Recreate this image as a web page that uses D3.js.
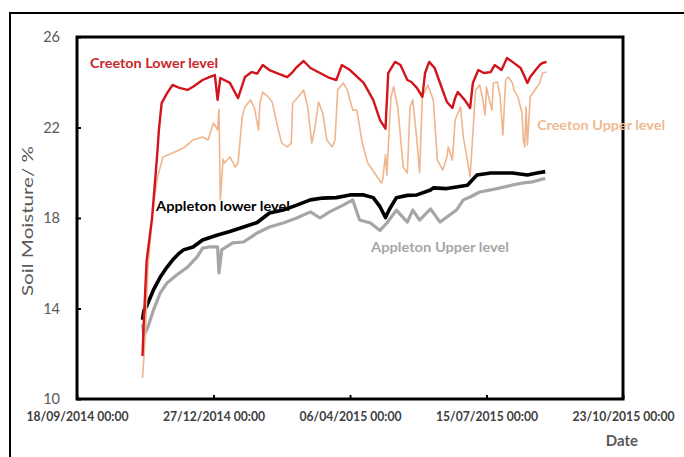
<!DOCTYPE html>
<html>
<head>
<meta charset="utf-8">
<script src="https://cdn.jsdelivr.net/npm/d3@7"></script>
<style>
  html, body { margin: 0; padding: 0; background: #ffffff; }
  svg { display: block; }
</style>
</head>
<body>
<svg id="chart" width="684" height="457"></svg>
<script>
// ---------- DATA ----------
const yTicks = [10, 14, 18, 22, 26];
const xTickDates = ["2014-09-18", "2014-12-27", "2015-04-06", "2015-07-15", "2015-10-23"];
const xDomain = ["2014-09-18", "2015-10-23"];

const seriesNames = ["Creeton Lower level", "Creeton Upper level", "Appleton lower level", "Appleton Upper level"];

const creetonLowerDates = ["2014-11-05","2014-11-06","2014-11-08","2014-11-12","2014-11-14","2014-11-16","2014-11-17","2014-11-19","2014-11-23","2014-11-27","2014-12-02","2014-12-08","2014-12-12","2014-12-19","2014-12-24","2014-12-28","2014-12-30","2015-01-01","2015-01-08","2015-01-14","2015-01-19","2015-01-24","2015-01-28","2015-02-01","2015-02-06","2015-02-11","2015-02-19","2015-02-23","2015-02-26","2015-03-03","2015-03-08","2015-03-15","2015-03-22","2015-03-27","2015-03-31","2015-04-06","2015-04-16","2015-04-23","2015-04-28","2015-05-02","2015-05-04","2015-05-09","2015-05-13","2015-05-18","2015-05-21","2015-05-25","2015-05-29","2015-05-31","2015-06-03","2015-06-07","2015-06-12","2015-06-16","2015-06-20","2015-06-22","2015-06-24","2015-06-29","2015-07-03","2015-07-05","2015-07-09","2015-07-13","2015-07-18","2015-07-21","2015-07-26","2015-07-30","2015-08-03","2015-08-09","2015-08-14","2015-08-16","2015-08-20","2015-08-23","2015-08-25","2015-08-28"];
const creetonLowerValues = [11.9,13.5,16.1,18.0,19.5,21.0,21.9,23.08,23.52,23.88,23.75,23.66,23.8,24.10,24.23,24.32,23.22,24.19,23.97,23.30,24.23,24.45,24.38,24.76,24.54,24.41,24.23,24.45,24.67,24.94,24.63,24.41,24.19,24.10,24.76,24.54,23.97,23.22,22.33,21.95,24.4,24.9,24.76,24.10,24.01,23.75,23.35,24.41,24.90,24.63,23.79,23.13,22.86,23.30,23.57,23.22,22.86,23.97,24.54,24.41,24.45,24.76,24.54,25.07,24.90,24.63,23.97,24.23,24.54,24.76,24.85,24.90];

const creetonUpperDates = ["2014-11-05","2014-11-07","2014-11-09","2014-11-12","2014-11-14","2014-11-16","2014-11-20","2014-11-27","2014-12-05","2014-12-12","2014-12-19","2014-12-23","2014-12-27","2014-12-30","2014-12-31","2015-01-01","2015-01-03","2015-01-04","2015-01-08","2015-01-12","2015-01-14","2015-01-17","2015-01-19","2015-01-23","2015-01-26","2015-01-29","2015-01-30","2015-02-01","2015-02-05","2015-02-08","2015-02-12","2015-02-15","2015-02-19","2015-02-22","2015-02-23","2015-02-27","2015-03-03","2015-03-06","2015-03-09","2015-03-11","2015-03-14","2015-03-17","2015-03-20","2015-03-24","2015-03-26","2015-03-28","2015-04-01","2015-04-04","2015-04-08","2015-04-11","2015-04-15","2015-04-19","2015-04-26","2015-04-29","2015-04-30","2015-05-02","2015-05-03","2015-05-06","2015-05-08","2015-05-11","2015-05-15","2015-05-18","2015-05-20","2015-05-22","2015-05-25","2015-05-27","2015-05-29","2015-06-02","2015-06-06","2015-06-09","2015-06-13","2015-06-16","2015-06-17","2015-06-20","2015-06-22","2015-06-26","2015-06-28","2015-07-01","2015-07-03","2015-07-07","2015-07-10","2015-07-12","2015-07-14","2015-07-15","2015-07-17","2015-07-19","2015-07-20","2015-07-23","2015-07-25","2015-07-27","2015-07-29","2015-07-31","2015-08-03","2015-08-04","2015-08-07","2015-08-10","2015-08-11","2015-08-12","2015-08-13","2015-08-14","2015-08-16","2015-08-21","2015-08-23","2015-08-25","2015-08-28"];
const creetonUpperValues = [10.93,12.74,15.8,18.0,19.0,19.8,20.70,20.87,21.09,21.45,21.58,21.45,22.20,21.89,22.8,18.8,20.6,20.43,20.70,20.25,20.43,22.46,22.91,23.22,22.86,21.89,23.08,23.57,23.35,23.13,22.02,21.31,21.14,21.31,23.08,23.35,23.66,22.91,21.31,21.89,23.13,22.64,21.45,21.14,21.45,23.66,23.97,23.66,22.77,22.77,21.31,20.43,19.81,19.55,19.7,20.8,19.9,23.35,23.80,22.9,20.25,19.99,22.91,23.22,21.45,19.99,23.35,23.88,23.22,20.56,20.12,20.70,21.14,20.56,22.33,22.91,21.58,20.56,19.81,23.66,23.88,23.35,22.55,23.79,23.22,22.77,23.97,24.01,23.35,21.67,24.10,24.23,23.97,23.66,23.35,22.64,21.45,21.14,22.91,21.23,23.35,23.79,23.97,24.41,24.45];

const appletonLowerDates = ["2014-11-05","2014-11-06","2014-11-08","2014-11-13","2014-11-18","2014-11-23","2014-11-27","2014-12-02","2014-12-05","2014-12-12","2014-12-19","2014-12-30","2015-01-08","2015-01-18","2015-01-28","2015-02-06","2015-02-16","2015-02-26","2015-03-08","2015-03-17","2015-03-27","2015-04-06","2015-04-16","2015-04-23","2015-04-28","2015-05-02","2015-05-05","2015-05-10","2015-05-18","2015-05-25","2015-06-04","2015-06-06","2015-06-16","2015-07-01","2015-07-08","2015-07-18","2015-07-27","2015-08-03","2015-08-14","2015-08-21","2015-08-27"];
const appletonLowerValues = [13.5,13.9,14.1,14.82,15.39,15.83,16.14,16.45,16.59,16.72,17.03,17.25,17.40,17.60,17.80,18.22,18.35,18.57,18.80,18.88,18.90,19.02,19.02,18.90,18.50,18.02,18.40,18.90,19.00,19.02,19.24,19.33,19.30,19.45,19.90,19.99,19.99,19.99,19.90,19.99,20.05];

const appletonUpperDates = ["2014-11-05","2014-11-06","2014-11-09","2014-11-13","2014-11-18","2014-11-23","2014-11-30","2014-12-08","2014-12-15","2014-12-19","2014-12-24","2014-12-30","2014-12-31","2015-01-02","2015-01-10","2015-01-18","2015-01-28","2015-02-06","2015-02-16","2015-02-26","2015-03-08","2015-03-15","2015-03-22","2015-04-01","2015-04-08","2015-04-13","2015-04-21","2015-04-28","2015-05-03","2015-05-10","2015-05-18","2015-05-22","2015-05-27","2015-06-04","2015-06-11","2015-06-18","2015-06-23","2015-06-28","2015-07-03","2015-07-10","2015-07-18","2015-07-25","2015-08-03","2015-08-11","2015-08-18","2015-08-27"];
const appletonUpperValues = [13.3,12.8,13.18,13.93,14.69,15.13,15.48,15.83,16.28,16.67,16.72,16.72,15.57,16.59,16.90,16.94,17.34,17.60,17.78,18.00,18.27,18.00,18.27,18.57,18.80,17.91,17.78,17.45,17.78,18.35,17.82,18.35,17.91,18.40,17.82,18.13,18.35,18.80,18.93,19.15,19.24,19.33,19.46,19.55,19.60,19.75];

// ---------- CHART ----------
const parse = d3.timeParse("%Y-%m-%d");
const svg = d3.select("#chart");
const plot = { left: 77, right: 623, top: 37, bottom: 399 };
const font = "Lato, 'Open Sans', sans-serif";

// outer frame (extends beyond the picture at right and bottom)
svg.append("rect").attr("x", 10).attr("y", 13).attr("width", 700).attr("height", 470)
  .attr("fill", "#fff").attr("stroke", "#000").attr("stroke-width", 2);

const x = d3.scaleTime().domain(xDomain.map(parse)).range([plot.left, plot.right]);
const y = d3.scaleLinear().domain([10, 26]).range([plot.bottom, plot.top]);

function mk(dates, vals) { return dates.map((d, i) => ({ date: parse(d), value: vals[i] })); }
const series = [
  { name: seriesNames[3], data: mk(appletonUpperDates, appletonUpperValues), color: "#a6a6a6", width: 3.2 },
  { name: seriesNames[2], data: mk(appletonLowerDates, appletonLowerValues), color: "#000000", width: 3.6 },
  { name: seriesNames[1], data: mk(creetonUpperDates, creetonUpperValues), color: "#efb58c", width: 1.6 },
  { name: seriesNames[0], data: mk(creetonLowerDates, creetonLowerValues), color: "#d2141c", width: 2.4 }
];

const line = d3.line().x(d => x(d.date)).y(d => y(d.value));
svg.append("g").selectAll("path").data(series).join("path")
  .attr("d", d => line(d.data))
  .attr("fill", "none")
  .attr("stroke", d => d.color)
  .attr("stroke-width", d => d.width)
  .attr("stroke-linejoin", "round");

// axes
const fmt = d3.timeFormat("%d/%m/%Y 00:00");
const xAxis = d3.axisBottom(x).tickValues(xTickDates.map(parse)).tickFormat(fmt).tickSize(-4).tickPadding(13);
const gx = svg.append("g").attr("transform", `translate(0,${plot.bottom})`).call(xAxis);
gx.select(".domain").remove();
gx.selectAll(".tick line").attr("stroke", "#000").attr("stroke-width", 2);
gx.selectAll(".tick text").attr("fill", "#404040").attr("font-family", font)
  .attr("font-weight", "bold").attr("font-size", "12.5px")
  .attr("textLength", 102).attr("lengthAdjust", "spacingAndGlyphs");

const yAxis = d3.axisLeft(y).tickValues(yTicks).tickSize(-4).tickPadding(17);
const gy = svg.append("g").attr("transform", `translate(${plot.left},0)`).call(yAxis);
gy.select(".domain").remove();
gy.selectAll(".tick line").attr("stroke", "#000").attr("stroke-width", 2);
gy.selectAll(".tick text").attr("fill", "#595959").attr("font-family", font).attr("font-size", "14.5px");

// plot box
svg.append("rect").attr("x", plot.left).attr("y", plot.top)
  .attr("width", plot.right - plot.left).attr("height", plot.bottom - plot.top)
  .attr("fill", "none").attr("stroke", "#000").attr("stroke-width", 3);

// axis titles
svg.append("text").attr("x", 622).attr("y", 446).attr("text-anchor", "middle")
  .attr("font-family", font).attr("font-weight", "bold").attr("font-size", "15px").attr("fill", "#595959")
  .text("Date");
svg.append("text").attr("transform", "translate(33,221) rotate(-90)").attr("text-anchor", "middle")
  .attr("font-family", font).attr("font-size", "15px").attr("fill", "#595959")
  .attr("textLength", 150).attr("lengthAdjust", "spacingAndGlyphs")
  .text("Soil Moisture/ %");

// series labels
const labels = [
  { text: seriesNames[0], x: 90, y: 68, color: "#c8262c", len: 128 },
  { text: seriesNames[1], x: 537, y: 130, color: "#f0b992", len: 128 },
  { text: seriesNames[2], x: 156, y: 211, color: "#000000", len: 134 },
  { text: seriesNames[3], x: 371, y: 252, color: "#a6a6a6", len: 138 }
];
svg.append("g").selectAll("text").data(labels).join("text")
  .attr("x", d => d.x).attr("y", d => d.y)
  .attr("font-family", font).attr("font-weight", "bold").attr("font-size", "14px")
  .attr("textLength", d => d.len).attr("lengthAdjust", "spacingAndGlyphs")
  .attr("fill", d => d.color).text(d => d.text);
</script>
</body>
</html>
